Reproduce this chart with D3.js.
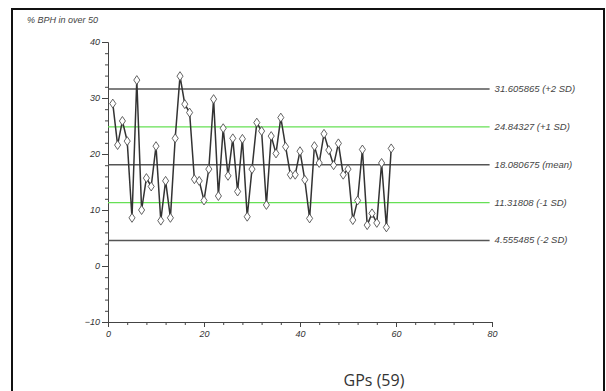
<!DOCTYPE html>
<html>
<head>
<meta charset="utf-8">
<script src="https://cdn.jsdelivr.net/npm/d3@7"></script>
<style>
  body { margin: 0; background: #fff; }
  svg { display: block; }
  .tick text { font-family: "Liberation Sans", Arial, sans-serif; font-style: italic; font-size: 9px; fill: #333; }
</style>
</head>
<body>
<div id="chart"></div>
<script>
// % BPH in over 50, one value per GP (59 practices)
const gpIndex = d3.range(1, 60);
const bphValues = [
    29.0, 21.6, 25.9, 22.3, 8.6, 33.2, 10.0, 15.7, 14.2, 21.4,
    8.1, 15.2, 8.6, 22.8, 33.9, 28.9, 27.4, 15.5, 15.2, 11.7,
    17.3, 29.8, 12.5, 24.6, 16.1, 22.8, 13.3, 22.7, 8.8, 17.3,
    25.6, 24.1, 10.9, 23.2, 20.1, 26.5, 21.3, 16.3, 16.3, 20.5,
    15.4, 8.5, 21.4, 18.4, 23.6, 20.7, 18.0, 21.9, 16.3, 17.3,
    8.2, 11.7, 20.8, 7.3, 9.4, 7.7, 18.4, 6.9, 21.0
];

// reference lines: mean and +-1 / +-2 SD
const refValues = [31.605865, 24.84327, 18.080675, 11.31808, 4.555485];
const refLabels = ["31.605865 (+2 SD)", "24.84327 (+1 SD)", "18.080675 (mean)", "11.31808 (-1 SD)", "4.555485 (-2 SD)"];
const refColors = ["#555", "#66e055", "#555", "#66e055", "#555"];

const yMajorTicks = [-10, 0, 10, 20, 30, 40];
const xMajorTicks = [0, 20, 40, 60, 80];

const width = 606, height = 391;

const svg = d3.select("#chart").append("svg")
    .attr("width", width)
    .attr("height", height);

// frame around the figure
svg.append("rect")
    .attr("x", 12).attr("y", 9)
    .attr("width", 592).attr("height", 400)
    .attr("fill", "none")
    .attr("stroke", "#111")
    .attr("stroke-width", 2);

const x = d3.scaleLinear().domain([0, 80]).range([108, 492]);
const y = d3.scaleLinear().domain([-10, 40]).range([322, 42]);

// y axis
const yAxis = svg.append("g").attr("transform", `translate(${x(0)},0)`);
yAxis.call(d3.axisLeft(y).tickValues(yMajorTicks).tickSize(6).tickPadding(2).tickFormat(d3.format("d")));
yAxis.select(".domain").attr("stroke", "#444");
yAxis.selectAll(".tick line").attr("stroke", "#444");
svg.append("g").attr("transform", `translate(${x(0)},0)`)
    .call(d3.axisLeft(y).tickValues(d3.range(-10, 41, 2).filter(d => d % 10 !== 0)).tickSize(3).tickFormat(""))
    .call(g => g.select(".domain").remove())
    .call(g => g.selectAll(".tick line").attr("stroke", "#444"));

// x axis
const xAxis = svg.append("g").attr("transform", `translate(0,${y(-10)})`);
xAxis.call(d3.axisBottom(x).tickValues(xMajorTicks).tickSize(5).tickPadding(4).tickFormat(d3.format("d")));
xAxis.select(".domain").attr("stroke", "#444");
xAxis.selectAll(".tick line").attr("stroke", "#444");
svg.append("g").attr("transform", `translate(0,${y(-10)})`)
    .call(d3.axisBottom(x).tickValues(d3.range(0, 81, 4).filter(d => d % 20 !== 0)).tickSize(3).tickFormat(""))
    .call(g => g.select(".domain").remove())
    .call(g => g.selectAll(".tick line").attr("stroke", "#444"));

// y axis title
svg.append("text")
    .attr("x", 27).attr("y", 23)
    .style("font-family", "Liberation Sans, Arial, sans-serif")
    .style("font-style", "italic")
    .style("font-size", "9px")
    .attr("fill", "#444")
    .text("% BPH in over 50");

// reference lines and their labels
const refs = svg.append("g");
refValues.forEach((v, i) => {
    refs.append("line")
        .attr("x1", x(0)).attr("x2", x(79.5))
        .attr("y1", y(v)).attr("y2", y(v))
        .attr("stroke", refColors[i])
        .attr("stroke-width", 1.3);
    refs.append("text")
        .attr("x", x(79.5) + 5)
        .attr("y", y(v) + 3)
        .style("font-family", "Liberation Sans, Arial, sans-serif")
        .style("font-style", "italic")
        .style("font-size", "9.5px")
        .attr("fill", "#444")
        .text(refLabels[i]);
});

// data line
const line = d3.line()
    .x((d, i) => x(gpIndex[i]))
    .y(d => y(d));

svg.append("path")
    .datum(bphValues)
    .attr("d", line)
    .attr("fill", "none")
    .attr("stroke", "#333")
    .attr("stroke-width", 1.5);

// diamond markers
svg.append("g").selectAll("path")
    .data(bphValues)
    .enter().append("path")
    .attr("transform", (d, i) => `translate(${x(gpIndex[i])},${y(d)}) scale(1,0.85)`)
    .attr("d", d3.symbol().type(d3.symbolDiamond).size(32))
    .attr("fill", "#fff")
    .attr("stroke", "#444")
    .attr("stroke-width", 0.9);

// x axis title
svg.append("text")
    .attr("x", 374).attr("y", 386)
    .attr("text-anchor", "middle")
    .style("font-family", "Open Sans, DejaVu Sans, sans-serif")
    .style("font-size", "16px")
    .attr("fill", "#333")
    .text("GPs (59)");
</script>
</body>
</html>
